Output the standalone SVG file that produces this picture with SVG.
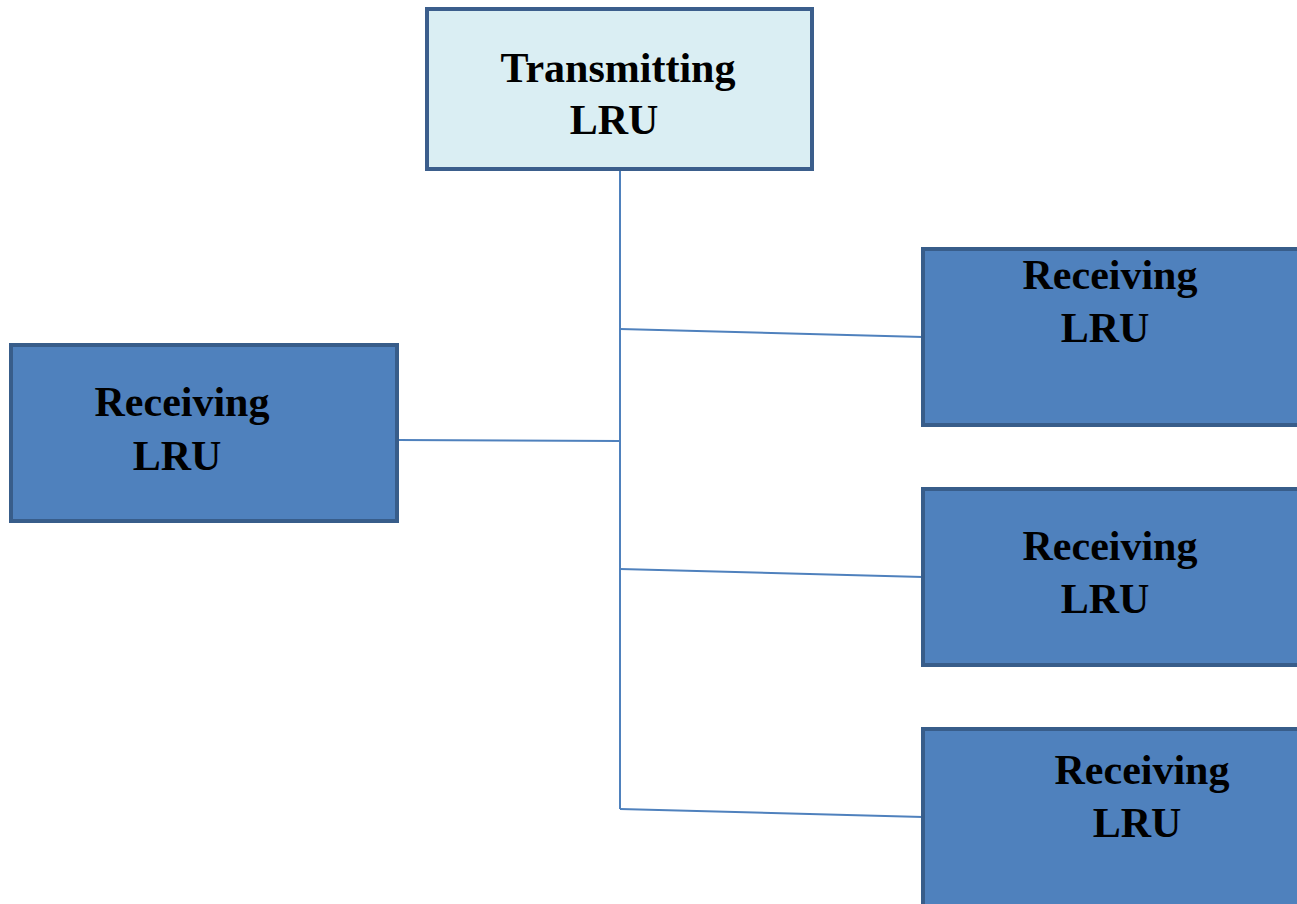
<svg xmlns="http://www.w3.org/2000/svg" width="1297" height="904" viewBox="0 0 1297 904">
<style>
.tx{fill:#DAEEF3;stroke:#3B5E8C;stroke-width:4}
.rx{fill:#4F81BD;stroke:#385D8A;stroke-width:4}
.t{font-family:"Liberation Serif","Times New Roman",serif;font-weight:bold;font-size:42px;fill:#000;text-anchor:middle}
.c{stroke:#4F81BD;stroke-width:2;fill:none}
</style>
<rect width="1297" height="904" fill="#fff"/>
<g id="connectors">
<line class="c" x1="620" y1="169" x2="620" y2="809"/>
<line class="c" x1="620" y1="329" x2="923" y2="337"/>
<line class="c" x1="397" y1="440" x2="620" y2="441"/>
<line class="c" x1="620" y1="569" x2="923" y2="577"/>
<line class="c" x1="620" y1="809" x2="923" y2="817"/>
</g>
<g id="transmitting">
<rect class="tx" x="427" y="9" width="385" height="160"/>
<text class="t" x="618" y="82">Transmitting</text>
<text class="t" x="614" y="134">LRU</text>
</g>
<g id="receiving-left">
<rect class="rx" x="11" y="345" width="386" height="176"/>
<text class="t" x="182" y="416">Receiving</text>
<text class="t" x="177" y="470">LRU</text>
</g>
<g id="receiving-1">
<rect class="rx" x="923" y="249" width="380" height="176"/>
<text class="t" x="1110" y="289">Receiving</text>
<text class="t" x="1105" y="342">LRU</text>
</g>
<g id="receiving-2">
<rect class="rx" x="923" y="489" width="380" height="176"/>
<text class="t" x="1110" y="560">Receiving</text>
<text class="t" x="1105" y="613">LRU</text>
</g>
<g id="receiving-3">
<rect class="rx" x="923" y="729" width="380" height="185"/>
<text class="t" x="1142" y="784">Receiving</text>
<text class="t" x="1137" y="837">LRU</text>
</g>
</svg>
